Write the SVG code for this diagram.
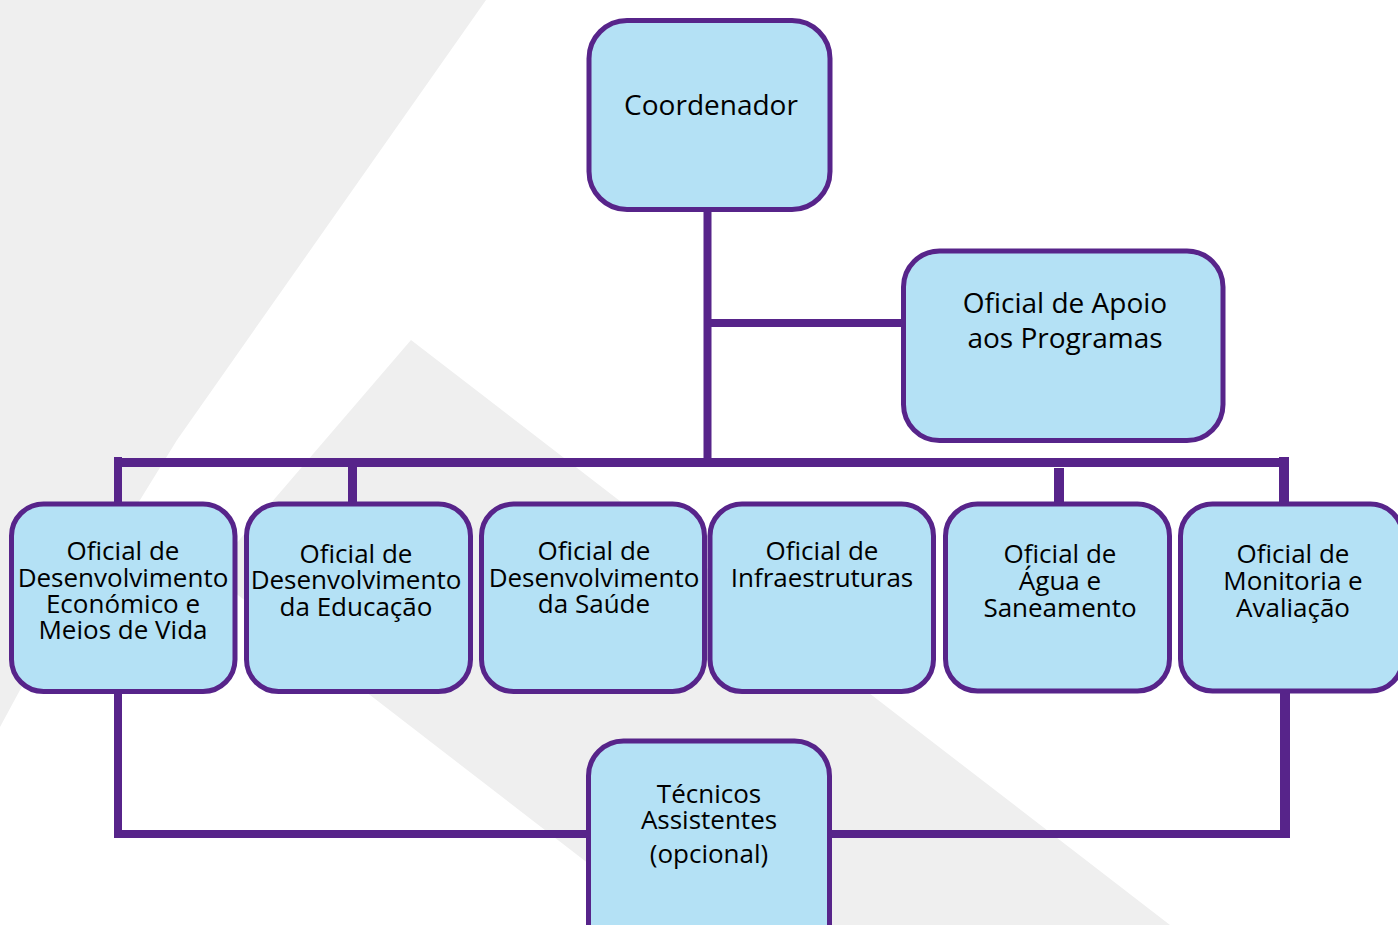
<svg xmlns="http://www.w3.org/2000/svg" width="1398" height="925" viewBox="0 0 1398 925">
<style>
.bg{fill:#efefef}
.box{fill:#b4e1f5;stroke:#57248a;stroke-width:5}
.ln{stroke:#57248a;fill:none;stroke-linecap:butt}
text{font-family:"Open Sans","Liberation Sans",sans-serif;fill:#000;text-anchor:middle}
.t26{font-size:26px}
.t28{font-size:28px}
</style>
<rect width="1398" height="925" fill="#ffffff"/>
<g id="background">
<polygon class="bg" points="0,0 486,0 177,440 140,500 20,690 0,727"/>
<polygon class="bg" points="411,340 1170,925 668,925 370,695 210,574"/>
</g>
<g id="connectors">
<line class="ln" x1="707.5" y1="210" x2="707.5" y2="466" stroke-width="8"/>
<line class="ln" x1="711" y1="323" x2="903" y2="323" stroke-width="8"/>
<line class="ln" x1="114" y1="462.5" x2="1289" y2="462.5" stroke-width="9"/>
<line class="ln" x1="118" y1="457" x2="118" y2="504" stroke-width="8"/>
<line class="ln" x1="352.5" y1="462" x2="352.5" y2="504" stroke-width="9"/>
<line class="ln" x1="1059" y1="468" x2="1059" y2="504" stroke-width="10"/>
<line class="ln" x1="1284" y1="457" x2="1284" y2="504" stroke-width="10"/>
<line class="ln" x1="118" y1="692" x2="118" y2="838" stroke-width="8"/>
<line class="ln" x1="114" y1="834" x2="590" y2="834" stroke-width="8"/>
<line class="ln" x1="1285" y1="692" x2="1285" y2="838" stroke-width="10"/>
<line class="ln" x1="828" y1="834" x2="1290" y2="834" stroke-width="8"/>
</g>
<g id="coordenador">
<rect class="box" x="589" y="20.5" width="241" height="189" rx="38" ry="38"/>
<text class="t28" x="711" y="115">Coordenador</text>
</g>
<g id="apoio">
<rect class="box" x="903.5" y="251" width="319.5" height="189.5" rx="36" ry="36"/>
<text class="t28" x="1065" y="313">Oficial de Apoio</text>
<text class="t28" x="1065" y="348">aos Programas</text>
</g>
<g id="desenv-economico">
<rect class="box" x="11.5" y="504" width="223.5" height="187.5" rx="32" ry="32"/>
<text class="t26" x="123" y="560">Oficial de</text>
<text class="t26" x="123" y="587">Desenvolvimento</text>
<text class="t26" x="123" y="613">Económico e</text>
<text class="t26" x="123" y="639">Meios de Vida</text>
</g>
<g id="desenv-educacao">
<rect class="box" x="246.5" y="504" width="224" height="187.5" rx="32" ry="32"/>
<text class="t26" x="356" y="563">Oficial de</text>
<text class="t26" x="356" y="589">Desenvolvimento</text>
<text class="t26" x="356" y="616">da Educação</text>
</g>
<g id="desenv-saude">
<rect class="box" x="481.5" y="504" width="223" height="187.5" rx="32" ry="32"/>
<text class="t26" x="594" y="560">Oficial de</text>
<text class="t26" x="594" y="587">Desenvolvimento</text>
<text class="t26" x="594" y="613">da Saúde</text>
</g>
<g id="infraestruturas">
<rect class="box" x="710" y="504" width="223.5" height="187.5" rx="32" ry="32"/>
<text class="t26" x="822" y="560">Oficial de</text>
<text class="t26" x="822" y="587">Infraestruturas</text>
</g>
<g id="agua">
<rect class="box" x="945.5" y="504" width="224" height="187" rx="32" ry="32"/>
<text class="t26" x="1060" y="563">Oficial de</text>
<text class="t26" x="1060" y="590">Água e</text>
<text class="t26" x="1060" y="617">Saneamento</text>
</g>
<g id="monitoria">
<rect class="box" x="1180.5" y="504" width="222" height="187" rx="32" ry="32"/>
<text class="t26" x="1293" y="563">Oficial de</text>
<text class="t26" x="1293" y="590">Monitoria e</text>
<text class="t26" x="1293" y="617">Avaliação</text>
</g>
<g id="tecnicos">
<rect class="box" x="588.5" y="741" width="241" height="220" rx="35" ry="35"/>
<text class="t26" x="709" y="803">Técnicos</text>
<text class="t26" x="709" y="829">Assistentes</text>
<text class="t26" x="709" y="863">(opcional)</text>
</g>
</svg>
